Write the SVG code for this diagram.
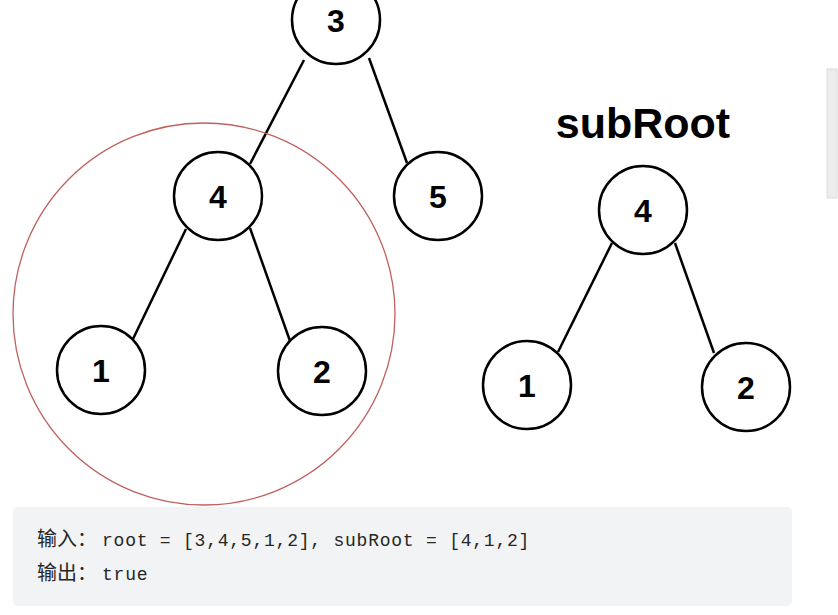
<svg xmlns="http://www.w3.org/2000/svg" width="838" height="615" viewBox="0 0 838 615">
<style>
.n circle{fill:#fff;stroke:#000;stroke-width:2.5}
.n text{font-family:"Liberation Sans",Arial,sans-serif;font-weight:bold;font-size:32px;text-anchor:middle;fill:#000}
.e line{stroke:#000;stroke-width:2.5}
.code{font-family:"Liberation Mono","Noto Sans CJK SC",monospace;font-size:18px;letter-spacing:0.77px;fill:#262626}
.cjk{font-family:"Noto Sans CJK SC",sans-serif;font-size:20px;letter-spacing:0}
</style>
<rect width="838" height="615" fill="#fff"/>
<rect x="827" y="69" width="10" height="129" fill="#ececec" stroke="#dcdcdc" stroke-width="1"/>
<g id="connectors" class="e">
<line x1="304" y1="60" x2="250" y2="164"/>
<line x1="369" y1="58" x2="407" y2="163"/>
<line x1="186" y1="229" x2="133" y2="339"/>
<line x1="250" y1="228" x2="290" y2="341"/>
<line x1="612" y1="243" x2="558" y2="352"/>
<line x1="675" y1="243" x2="714" y2="353"/>
</g>
<g id="highlight">
<circle cx="204" cy="314" r="191" fill="none" stroke="#c0605c" stroke-width="1.3"/>
</g>
<g id="n3" class="n"><circle cx="336" cy="20" r="44"/><text x="336" y="32">3</text></g>
<g id="n4" class="n"><circle cx="218" cy="196" r="44"/><text x="218" y="208">4</text></g>
<g id="n5" class="n"><circle cx="438" cy="196" r="44"/><text x="438" y="208">5</text></g>
<g id="n1" class="n"><circle cx="101" cy="370" r="44"/><text x="101" y="382">1</text></g>
<g id="n2" class="n"><circle cx="322" cy="371" r="44"/><text x="322" y="383">2</text></g>
<g id="subroot-label"><text x="643" y="138" font-family="'Liberation Sans',Arial,sans-serif" font-weight="bold" font-size="43" text-anchor="middle" fill="#000">subRoot</text></g>
<g id="s4" class="n"><circle cx="643" cy="210" r="44"/><text x="643" y="222">4</text></g>
<g id="s1" class="n"><circle cx="527" cy="385" r="44"/><text x="527" y="397">1</text></g>
<g id="s2" class="n"><circle cx="746" cy="387" r="44"/><text x="746" y="399">2</text></g>
<g id="example">
<rect x="13" y="507" width="779" height="99" rx="5" fill="#f2f3f5"/>
<text class="code" y="546"><tspan class="cjk" x="37">输入：</tspan><tspan x="102">root = [3,4,5,1,2], subRoot = [4,1,2]</tspan></text>
<text class="code" y="580"><tspan class="cjk" x="37">输出：</tspan><tspan x="102">true</tspan></text>
</g>
</svg>
